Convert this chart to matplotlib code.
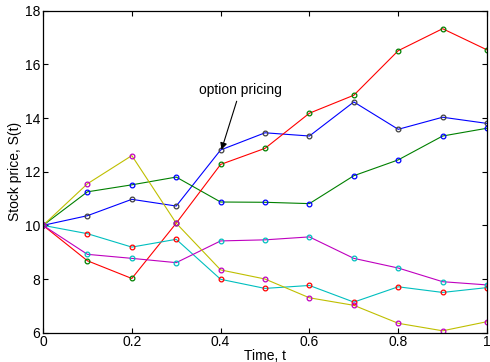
import matplotlib
matplotlib.use("Agg")
import matplotlib.pyplot as plt

plt.rcParams['font.family'] = ['Liberation Sans', 'DejaVu Sans']

# time grid and simulated stock paths
t = [0, 0.1, 0.2, 0.3, 0.4, 0.5, 0.6, 0.7, 0.8, 0.9, 1.0]
path_blue = [10, 10.36, 10.97, 10.72, 12.81, 13.45, 13.33, 14.60, 13.58, 14.03, 13.80]
path_green = [10, 11.25, 11.51, 11.80, 10.87, 10.86, 10.81, 11.85, 12.44, 13.33, 13.62]
path_red = [10, 8.68, 8.02, 10.08, 12.27, 12.87, 14.18, 14.85, 16.51, 17.33, 16.54]
path_cyan = [10, 9.69, 9.19, 9.48, 7.99, 7.65, 7.76, 7.14, 7.71, 7.50, 7.68]
path_magenta = [10, 8.92, 8.77, 8.61, 9.42, 9.46, 9.57, 8.77, 8.41, 7.90, 7.78]
path_yellow = [10, 11.55, 12.60, 10.08, 8.34, 8.00, 7.30, 7.02, 6.35, 6.07, 6.41]

paths = [path_blue, path_green, path_red, path_cyan, path_magenta, path_yellow]
line_colors = ['#0000ff', '#008000', '#ff0000', '#00bfbf', '#bf00bf', '#bfbf00']
marker_colors = ['#404040', '#0000ff', '#008000', '#ff0000', '#00bfbf', '#bf00bf']

fig = plt.figure(figsize=(4.9, 3.62), dpi=100)
ax = fig.add_axes([0.0878, 0.081, 0.9061, 0.8894])

for p, c in zip(paths, line_colors):
    ax.plot(t, p, '-', color=c, lw=0.8)
for p, c in zip(paths, marker_colors):
    ax.plot(t, p, 'o', mfc='none', mec=c, ms=3.4, mew=0.9)

ax.annotate('option pricing', xy=(0.402, 12.82), xytext=(0.444, 15.04),
            ha='center', va='center', fontsize=10,
            arrowprops=dict(arrowstyle='-|>', color='black', lw=0.8,
                            mutation_scale=10, shrinkA=1, shrinkB=0))

ax.set_xlim(0, 1)
ax.set_ylim(6, 18)
ax.set_xticks([0, 0.2, 0.4, 0.6, 0.8, 1])
ax.set_xticklabels(['0', '0.2', '0.4', '0.6', '0.8', '1'])
ax.set_yticks([6, 8, 10, 12, 14, 16, 18])
ax.tick_params(direction='in', top=True, right=True, length=3.5, width=0.8,
               labelsize=10, pad=2)
for s in ax.spines.values():
    s.set_linewidth(0.9)
ax.set_xlabel('Time, t', fontsize=10, labelpad=0)
ax.set_ylabel('Stock price, S(t)', fontsize=10, labelpad=2)

fig.savefig('out.png', dpi=100)
